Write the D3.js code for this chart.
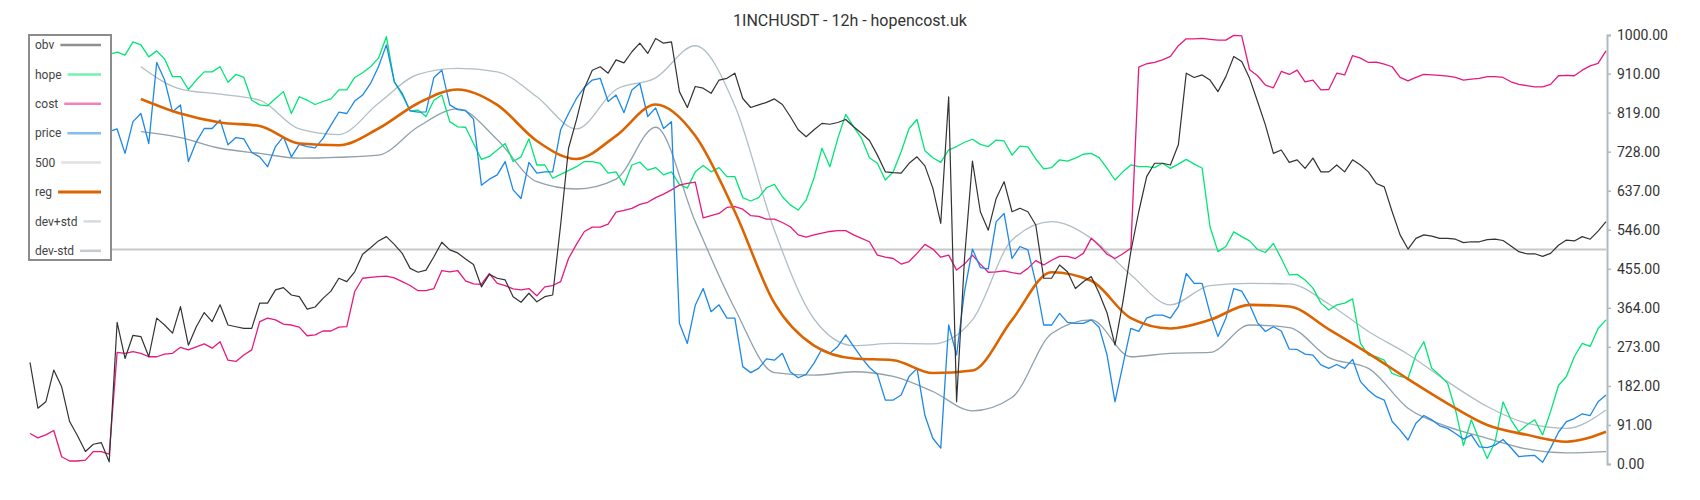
<!DOCTYPE html>
<html>
<head>
<meta charset="utf-8">
<script src="https://cdn.jsdelivr.net/npm/d3@7"></script>
<style>
  body { margin: 0; background: #fff; }
  svg { display: block; font-family: Roboto, sans-serif; }
</style>
</head>
<body>
<div id="container"></div>
<script>
//VARIABLES
const width = 1700,
  height = 500,
  margin = { top: 35, bottom: 36, left: 30, right: 94 };

const title = "1INCHUSDT - 12h - hopencost.uk";

// tick labels on the right axis
const tickValues = [0, 91, 182, 273, 364, 455, 546, 637, 728, 819, 910, 1000];

// the four noisy series, one value per 12h candle
const obv = [
  237,130,145,219,180,99,66,29,46,50,5,330,246,300,297,250,340,324,305,367,277,320,353,332,
  371,324,320,316,316,375,375,406,411,394,390,361,366,386,403,433,425,448,489,504,520,530,512,491,456,
  447,452,483,517,499,492,478,465,413,442,433,429,390,377,398,378,390,394,557,736,802,876,918,926,
  911,942,935,961,981,957,992,981,984,868,831,880,876,864,895,899,911,852,831,837,843,851,838,810,779,
  763,779,794,792,796,803,786,771,754,720,681,679,678,701,716,695,643,561,856,145,479,706,588,545,619,
  658,588,596,588,557,433,433,464,448,409,425,437,398,352,277,378,495,588,670,701,701,697,744,911,
  901,907,895,868,903,950,938,899,845,790,724,732,703,709,689,713,681,681,697,681,709,697,681,654,646,
  588,534,501,526,534,531,526,526,524,516,518,518,523,524,521,508,495,490,490,484,491,510,522,520,530,524,543,565
];
const hope = [
  950,955,960,955,950,945,950,955,960,958,955,960,953,984,977,949,963,944,903,903,873,895,914,914,
  926,890,908,901,848,837,835,852,868,817,856,848,838,845,851,872,872,901,912,926,946,996,891,860,823,
  825,810,848,860,798,786,785,747,710,717,732,747,705,716,758,697,697,666,675,684,693,705,705,701,
  678,681,650,697,704,685,691,674,681,652,643,681,696,681,691,670,670,621,613,621,644,652,623,604,592,
  615,667,736,693,759,815,786,759,714,701,662,681,728,782,803,730,714,703,732,740,750,757,745,740,755,
  753,720,741,739,711,688,691,709,706,713,722,724,714,689,662,681,697,693,693,691,701,689,699,710,
  699,690,553,495,507,541,530,520,500,493,514,479,441,442,429,410,375,359,371,375,385,281,254,250,242,
  211,204,200,254,285,223,207,188,126,43,103,56,13,52,145,103,75,91,103,68,122,183,204,250,281,274,316,336
];
const cost = [
  71,61,68,78,17,7,7,9,29,29,23,260,258,262,258,250,250,256,258,272,266,273,280,270,
  285,242,239,254,266,332,340,336,326,324,319,299,301,310,310,319,320,402,433,435,437,438,434,425,416,
  404,404,409,451,448,451,427,420,419,444,421,416,408,406,409,392,413,416,425,479,512,542,552,552,
  559,587,591,596,605,610,621,629,639,650,654,657,574,579,584,598,600,594,579,577,571,571,563,553,534,
  529,534,538,542,544,544,534,526,518,487,482,479,466,472,491,512,501,482,487,452,466,487,466,447,448,
  450,446,443,456,474,464,475,484,484,479,491,526,509,489,479,490,503,925,933,936,942,950,975,991,
  991,992,990,988,988,999,998,919,905,883,877,915,908,918,891,895,872,873,911,907,952,946,936,937,932,
  926,901,893,901,908,907,906,904,901,895,897,899,903,903,901,891,885,882,879,879,885,905,906,905,918,928,934,963
];
const price = [
  780,785,770,790,775,780,770,785,790,780,775,781,724,798,817,747,936,895,821,837,705,751,782,782,
  802,744,761,758,726,716,693,740,763,716,745,740,737,759,790,820,817,846,860,887,926,977,891,864,823,
  820,821,901,918,837,826,824,804,650,664,674,705,639,619,703,678,681,681,779,817,852,878,895,899,
  845,860,819,872,887,810,830,782,798,328,281,370,409,355,371,340,340,227,213,223,245,242,258,215,201,
  209,235,268,258,274,301,274,248,225,209,149,149,161,204,223,113,60,37,324,254,402,501,458,455,565,
  584,479,507,499,423,324,324,351,330,328,328,336,319,254,145,231,316,309,340,347,347,340,367,444,
  421,421,351,297,340,409,403,371,329,309,320,310,268,267,256,254,231,223,232,223,244,192,172,157,149,
  99,79,56,95,113,103,89,83,71,58,68,40,38,44,57,38,17,19,20,4,37,74,99,106,117,113,145,161
];

// smooth series start later (rolling window), read every 5th candle from 14 on
const smoothStart = 14, smoothStep = 5;
const reg = [
  851,817,796,788,747,743,782,841,873,837,753,711,765,838,765,588,375,276,246,242,
  212,218,336,447,427,340,316,336,371,367,314,258,198,141,91,68,52,75
];
const devPlus = [
  926,874,862,848,781,768,841,908,922,914,856,781,873,900,975,835,545,338,276,281,
  280,336,522,565,526,441,371,416,421,420,373,309,256,192,134,95,83,126
];
const devMinus = [
  775,761,736,724,713,715,720,786,828,756,658,641,664,785,565,362,213,207,215,204,
  169,124,155,304,336,250,258,260,324,318,248,223,130,87,60,35,26,29
];
const level = 500;

const legendNames = ["obv", "hope", "cost", "price", "500", "reg", "dev+std", "dev-std"];
const colors = {
  "obv": "#333333", "hope": "#00e676", "cost": "#e6197f", "price": "#1e88e5",
  "500": "#c8c8c8", "reg": "#dc6400", "dev+std": "#b0bec5", "dev-std": "#8fa1ab"
};

// SCALES
const n = obv.length;
const xScale = d3.scaleLinear()
  .domain([0, n - 1])
  .range([margin.left, width - margin.right]);   // last candle sits on the axis

const yScale = d3.scaleLinear()
  .domain([0, 1000])
  .range([height - margin.bottom, margin.top]);

const smoothIdx = reg.map((d, i) => smoothStart + i * smoothStep);

const svg = d3.select("#container")
  .append("svg")
  .attr("width", width)
  .attr("height", height);

// title, centred on the whole picture
svg.append("text")
  .attr("x", width / 2)
  .attr("y", 26)
  .attr("text-anchor", "middle")
  .attr("fill", "#333")
  .style("font-size", "16px")
  .text(title);

// 500 line first so everything sits on top of it
svg.append("line")
  .attr("x1", xScale(0))
  .attr("x2", xScale(n - 1))
  .attr("y1", yScale(level))
  .attr("y2", yScale(level))
  .attr("stroke", colors["500"])
  .attr("stroke-width", 2);

const noisyLine = d3.line()
  .x((d, i) => xScale(i))
  .y(d => yScale(d));

const smoothLine = d3.line()
  .x((d, i) => xScale(smoothIdx[i]))
  .y(d => yScale(d))
  .curve(d3.curveMonotoneX);

// bands
svg.append("path").datum(devPlus)
  .attr("d", smoothLine).attr("fill", "none")
  .attr("stroke", colors["dev+std"]).attr("stroke-width", 1.3);
svg.append("path").datum(devMinus)
  .attr("d", smoothLine).attr("fill", "none")
  .attr("stroke", colors["dev-std"]).attr("stroke-width", 1.3);

// noisy series
[["hope", hope], ["cost", cost], ["price", price]].forEach(([name, data]) => {
  svg.append("path").datum(data)
    .attr("d", noisyLine)
    .attr("fill", "none")
    .attr("stroke", colors[name])
    .attr("stroke-width", 1.3)
    .attr("stroke-linejoin", "round");
});

// regression on top
svg.append("path").datum(reg)
  .attr("d", smoothLine).attr("fill", "none")
  .attr("stroke", colors["reg"]).attr("stroke-width", 2.6);

svg.append("path").datum(obv)
  .attr("d", noisyLine)
  .attr("fill", "none")
  .attr("stroke", colors["obv"])
  .attr("stroke-width", 1.2)
  .attr("stroke-linejoin", "round");

// AXIS (right side)
const yAxis = d3.axisRight(yScale)
  .tickValues(tickValues)
  .tickFormat(d => d.toFixed(2))
  .tickSize(4)
  .tickPadding(6);

const axisG = svg.append("g")
  .attr("transform", `translate(${xScale(n - 1) + 1},0)`)
  .call(yAxis);

axisG.select(".domain").attr("stroke", "#b0bac0").attr("stroke-width", 2);
axisG.selectAll(".tick line").attr("stroke", "#b0bac0").attr("stroke-width", 1.5);
axisG.selectAll(".tick text")
  .attr("fill", "#333")
  .style("font-size", "14px")
  .style("font-family", "Roboto, sans-serif");

// LEGEND (white box hides the start of the lines)
const legend = svg.append("g");
legend.append("rect")
  .attr("x", 29).attr("y", 35)
  .attr("width", 82).attr("height", 225)
  .attr("fill", "#fff")
  .attr("stroke", "#8c8c8c")
  .attr("stroke-width", 2);

legendNames.forEach((name, i) => {
  const y = 45 + i * 29.4;
  const t = legend.append("text")
    .attr("x", 35)
    .attr("y", y)
    .attr("dy", "0.35em")
    .attr("fill", "#444")
    .style("font-size", "12px")
    .text(name);
  const textEnd = 35 + t.node().getComputedTextLength();
  legend.append("line")
    .attr("x1", textEnd + 6)
    .attr("x2", 101)
    .attr("y1", y)
    .attr("y2", y)
    .attr("stroke", colors[name])
    .attr("stroke-opacity", name === "reg" ? 1 : 0.55)
    .attr("stroke-width", name === "reg" ? 3 : 2.5);
});
</script>
</body>
</html>
